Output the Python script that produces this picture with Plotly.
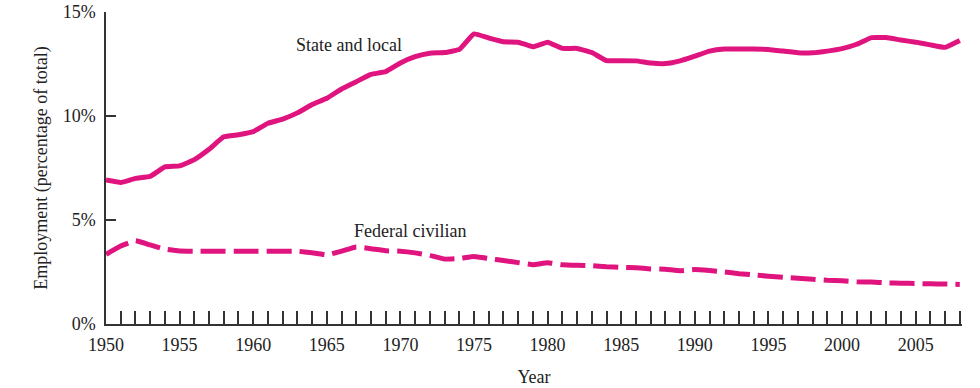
import plotly.graph_objects as go

years = list(range(1950, 2009))

state_local = [
    6.92, 6.80, 7.00, 7.10, 7.55, 7.60, 7.90, 8.40, 9.00, 9.10,
    9.25, 9.65, 9.85, 10.15, 10.55, 10.85, 11.30, 11.65, 12.00, 12.13,
    12.55, 12.85, 13.02, 13.05, 13.20, 13.95, 13.75, 13.57, 13.55, 13.33,
    13.55, 13.25, 13.25, 13.05, 12.66, 12.66, 12.65, 12.55, 12.52, 12.65,
    12.88, 13.12, 13.22, 13.22, 13.22, 13.20, 13.12, 13.04, 13.04, 13.12,
    13.24, 13.45, 13.77, 13.77, 13.65, 13.55, 13.42, 13.30, 13.63,
]

federal_civilian = [
    3.35, 3.75, 4.00, 3.80, 3.60, 3.51, 3.50, 3.50, 3.50, 3.50,
    3.50, 3.50, 3.50, 3.50, 3.43, 3.33, 3.50, 3.70, 3.62, 3.52,
    3.50, 3.42, 3.30, 3.12, 3.15, 3.25, 3.15, 3.05, 2.95, 2.85,
    2.95, 2.85, 2.82, 2.80, 2.75, 2.72, 2.70, 2.65, 2.63, 2.56,
    2.62, 2.57, 2.50, 2.42, 2.36, 2.30, 2.25, 2.20, 2.15, 2.10,
    2.08, 2.03, 2.02, 1.98, 1.96, 1.95, 1.93, 1.92, 1.90,
]

x_tick_vals = [1950, 1955, 1960, 1965, 1970, 1975, 1980, 1985, 1990, 1995, 2000, 2005]
x_tick_text = [str(v) for v in x_tick_vals]
y_tick_vals = [0, 5, 10, 15]
y_tick_text = ["0%", "5%", "10%", "15%"]

labels = [
    dict(text="State and local", x=1966.5, y=13.4),
    dict(text="Federal civilian", x=1970.65, y=4.49),
]

color = "#E0147F"
serif = "Liberation Serif, Times New Roman, serif"
ink = "#222"

fig = go.Figure()
fig.add_trace(go.Scatter(
    x=years, y=state_local, mode="lines", name="State and local",
    line=dict(color=color, width=5, shape="spline", smoothing=0.3),
))
fig.add_trace(go.Scatter(
    x=years, y=federal_civilian, mode="lines", name="Federal civilian",
    line=dict(color=color, width=5, dash="25px,8px", shape="spline", smoothing=0.3),
))

for lab in labels:
    fig.add_annotation(
        text=lab["text"], x=lab["x"], y=lab["y"], xref="x", yref="y",
        showarrow=False, font=dict(family=serif, size=18, color=ink),
    )

fig.update_layout(
    width=980, height=388,
    margin=dict(l=106, r=18, t=12, b=64),
    paper_bgcolor="white", plot_bgcolor="white",
    showlegend=False,
    font=dict(family=serif, size=18, color=ink),
)

fig.update_xaxes(
    range=[1950, 2008.15], automargin=False,
    tickvals=x_tick_vals, ticktext=x_tick_text,
    ticks="inside", ticklen=13, tickwidth=1.5, tickcolor="#333",
    ticklabelstandoff=4,
    minor=dict(ticks="inside", ticklen=13, tickwidth=1.5, tickcolor="#333", dtick=1, tick0=1950),
    showline=True, linecolor="#333", linewidth=1.5,
    showgrid=False, zeroline=False,
    title=dict(text="Year", font=dict(family=serif, size=18, color=ink), standoff=16),
    tickfont=dict(family=serif, size=18, color=ink),
)

fig.update_yaxes(
    range=[0, 15], automargin=False,
    tickvals=y_tick_vals, ticktext=y_tick_text,
    ticks="inside", ticklen=10, tickwidth=1.5, tickcolor="#333",
    ticklabelstandoff=5,
    showline=True, linecolor="#333", linewidth=1.5,
    showgrid=False, zeroline=False,
    title=dict(text="Employment (percentage of total)", font=dict(family=serif, size=18, color=ink), standoff=10),
    tickfont=dict(family=serif, size=18, color=ink),
)

fig.write_html("out.html", config={"displayModeBar": False},
               post_script="document.body.style.margin='0px';")
